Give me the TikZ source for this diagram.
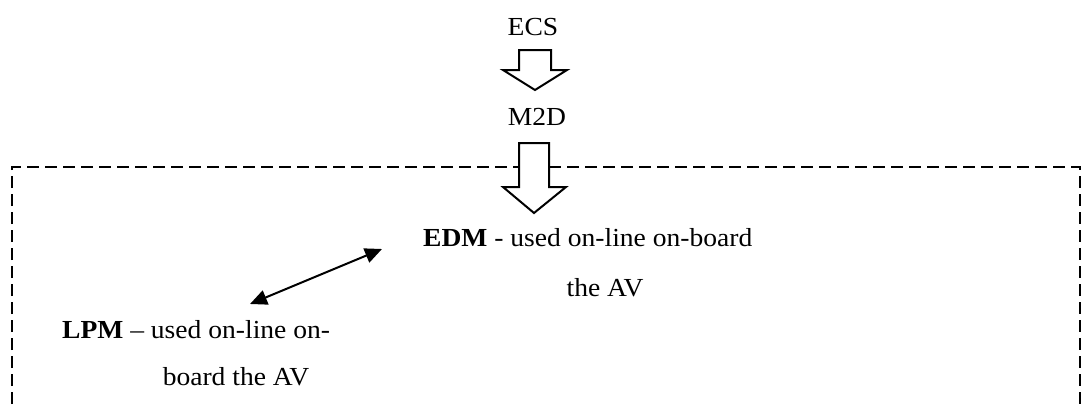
\documentclass[tikz,border=0pt]{standalone}
\usepackage{fontspec}
\setmainfont{Liberation Serif}[FakeStretch=1.06]
\usetikzlibrary{arrows.meta}
\begin{document}
\begin{tikzpicture}[x=1pt,y=-1pt,
  txt/.style={inner sep=0pt,font=\fontsize{26}{31}\selectfont},
  blockarrow/.style={draw=black,line width=2pt,fill=white,line join=miter},
  dashbox/.style={draw=black,line width=2pt,dash pattern=on 12pt off 6pt},
  link/.style={line width=2pt,{Triangle[length=17pt,width=15pt]}-{Triangle[length=17pt,width=15pt]}}]
\useasboundingbox (0,0) rectangle (1082,407);
\begin{scope}
\clip (0,0) rectangle (1082,407);
\draw[dashbox] (12,440) -- (12,167) -- (1080,167) -- (1080,440);
\end{scope}
% texts
\node[txt,anchor=base] (ecs) at (533,35) {ECS};
\node[txt,anchor=base] (m2d) at (537,125) {M2D};
\node[txt,anchor=base west] (edm1) at (423,246) {\textbf{EDM} - used on-line on-board};
\node[txt,anchor=base] (edm2) at (605,296) {the AV};
\node[txt,anchor=base west] (lpm1) at (62,338) {\textbf{LPM} – used on-line on-};
\node[txt,anchor=base] (lpm2) at (236,385) {board the AV};
% block arrows
\draw[blockarrow] (519,50) -- (551,50) -- (551,70) -- (567,70) -- (535,90) -- (503,70) -- (519,70) -- cycle;
\draw[blockarrow] (519,143) -- (549,143) -- (549,187) -- (566,187) -- (534,213) -- (503,187) -- (519,187) -- cycle;
% double arrow
\coordinate (la) at (250,304);
\coordinate (ea) at (382,249);
\draw[link] (la) -- (ea);
\end{tikzpicture}
\end{document}
